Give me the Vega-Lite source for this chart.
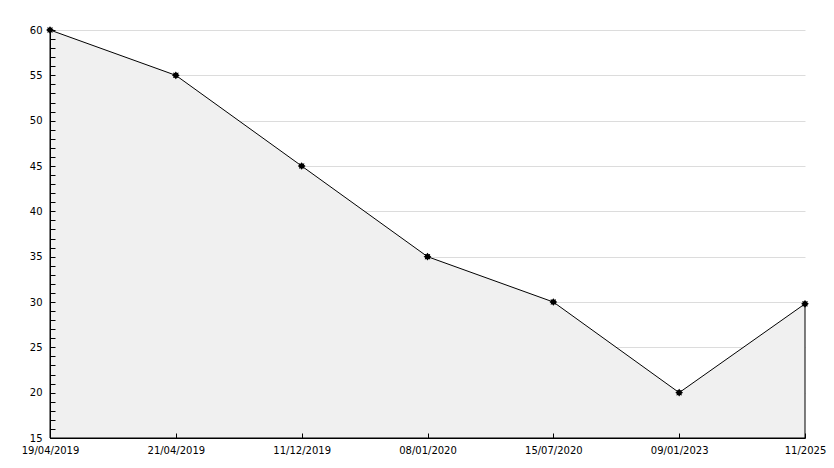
{
  "$schema": "https://vega.github.io/schema/vega-lite/v6.json",
  "autosize": "none",
  "width": 755,
  "height": 408,
  "padding": {"left": 50, "top": 30, "right": 29, "bottom": 30},
  "background": "white",
  "config": {
    "view": {"stroke": null},
    "axis": {"labelFont": "DejaVu Sans", "labelFontSize": 10, "labelColor": "black", "domainColor": "black", "tickColor": "black", "titleFont": "DejaVu Sans"}
  },
  "data": {
    "values": [
      {"date": "19/04/2019", "value": 60},
      {"date": "21/04/2019", "value": 55},
      {"date": "11/12/2019", "value": 45},
      {"date": "08/01/2020", "value": 35},
      {"date": "15/07/2020", "value": 30},
      {"date": "09/01/2023", "value": 20},
      {"date": "11/2025", "value": 29.8}
    ]
  },
  "layer": [
    {
      "mark": {"type": "rule", "opacity": 0},
      "encoding": {
        "x": {"field": "date", "type": "ordinal", "sort": null, "scale": {"type": "point", "padding": 0}, "axis": null},
        "y": {
          "field": "value", "type": "quantitative",
          "scale": {"domain": [15, 60], "nice": false, "zero": false},
          "axis": {"orient": "left", "title": null, "labels": false, "domain": false, "grid": false, "tickSize": -5, "zindex": 2, "values": [16,17,18,19,21,22,23,24,26,27,28,29,31,32,33,34,36,37,38,39,41,42,43,44,46,47,48,49,51,52,53,54,56,57,58,59]}
        }
      }
    },
    {
      "mark": {"type": "area", "fill": "#f0f0f0", "stroke": "black", "strokeWidth": 1},
      "encoding": {
        "x": {
          "field": "date", "type": "ordinal", "sort": null,
          "scale": {"type": "point", "padding": 0},
          "axis": {"title": null, "labelAngle": 0, "tickSize": -5, "labelPadding": 12, "grid": false, "zindex": 2}
        },
        "y": {
          "field": "value", "type": "quantitative",
          "scale": {"domain": [15, 60], "nice": false, "zero": false},
          "axis": {"orient": "left", "title": null, "labels": false, "ticks": false, "domain": false, "values": [20, 25, 30, 35, 40, 45, 50, 55, 60], "grid": true, "gridColor": "#dcdcdc", "zindex": 0}
        },
        "y2": {"datum": 15}
      }
    },
    {
      "mark": {"type": "point", "filled": true, "color": "black", "opacity": 1, "size": 60, "shape": "M0,-1L0.3,-0.6L0.7,-0.7L0.6,-0.3L1,0L0.6,0.3L0.7,0.7L0.3,0.6L0,1L-0.3,0.6L-0.7,0.7L-0.6,0.3L-1,0L-0.6,-0.3L-0.7,-0.7L-0.3,-0.6Z"},
      "encoding": {
        "x": {"field": "date", "type": "ordinal", "sort": null, "axis": null},
        "y": {
          "field": "value", "type": "quantitative",
          "axis": {"orient": "left", "title": null, "values": [15, 20, 25, 30, 35, 40, 45, 50, 55, 60], "tickSize": -5, "labelPadding": 13, "grid": false, "zindex": 2}
        }
      }
    }
  ],
  "resolve": {"axis": {"y": "independent", "x": "independent"}}
}
